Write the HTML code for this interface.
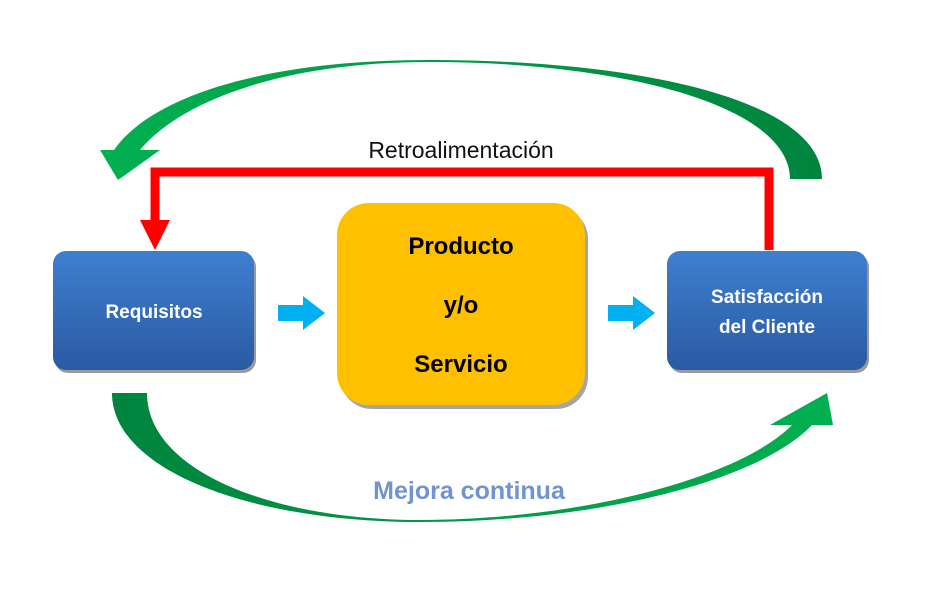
<!DOCTYPE html>
<html><head><meta charset="utf-8"><style>
body{margin:0;background:#fff;}
svg{display:block;font-family:"Liberation Sans",sans-serif;}
</style></head><body>
<svg width="927" height="596" viewBox="0 0 927 596" xmlns="http://www.w3.org/2000/svg">
<defs>
<linearGradient id="bl" x1="0" y1="0" x2="0" y2="1">
<stop offset="0" stop-color="#3f7fd0"/><stop offset="1" stop-color="#2a5aa3"/></linearGradient>
<linearGradient id="gt" x1="0" y1="0" x2="1" y2="0">
<stop offset="0" stop-color="#00b050"/><stop offset="1" stop-color="#00843d"/></linearGradient>
<linearGradient id="gb" x1="0" y1="0" x2="1" y2="0">
<stop offset="0" stop-color="#00843d"/><stop offset="1" stop-color="#00b050"/></linearGradient>
</defs>
<path d="M822,179 C822,100 640,60 430,60 C260,60 150,98 114,150 L100,150 L118,180 L160,150 L140,150 C180,102 280,62 430,62 C620,62 790,105 790,179 Z" fill="url(#gt)"/>
<path d="M112,393 C112,470 250,522 420,522 C600,522 760,480 812,425 L833,425 L827,393 L770,425 L792,425 C740,478 580,520 420,520 C270,520 147,470 147,393 Z" fill="url(#gb)"/>
<path d="M769,250 L769,172 L155,172 L155,222" fill="none" stroke="#ff0000" stroke-width="9"/>
<polygon points="140,220 170,220 155,250" fill="#ff0000"/>
<text x="461" y="158" font-size="23" text-anchor="middle" fill="#111">Retroalimentación</text>
<rect x="55" y="254" width="201" height="119" rx="13" fill="#9a9a9a"/>
<rect x="53" y="251" width="201" height="119" rx="13" fill="url(#bl)"/>
<rect x="669" y="254" width="200" height="119" rx="13" fill="#9a9a9a"/>
<rect x="667" y="251" width="200" height="119" rx="13" fill="url(#bl)"/>
<rect x="340" y="207" width="248" height="202" rx="32" fill="#a5a5a5"/>
<rect x="337" y="203" width="248" height="202" rx="32" fill="#ffc000"/>
<text x="154" y="318" font-size="19" font-weight="bold" fill="#fff" text-anchor="middle">Requisitos</text>
<text x="767" y="303" font-size="19" font-weight="bold" fill="#fff" text-anchor="middle">Satisfacción</text>
<text x="767" y="333" font-size="19" font-weight="bold" fill="#fff" text-anchor="middle">del Cliente</text>
<text x="461" y="254" font-size="24" font-weight="bold" fill="#000" text-anchor="middle">Producto</text>
<text x="461" y="313" font-size="24" font-weight="bold" fill="#000" text-anchor="middle">y/o</text>
<text x="461" y="372" font-size="24" font-weight="bold" fill="#000" text-anchor="middle">Servicio</text>
<polygon points="278,305 303,305 303,296 325,313 303,330 303,321 278,321" fill="#00b0f0"/>
<polygon points="608,305 633,305 633,296 655,313 633,330 633,321 608,321" fill="#00b0f0"/>
<text x="469" y="499" font-size="25" font-weight="bold" fill="#7094d0" text-anchor="middle">Mejora continua</text>
</svg>
</body></html>
